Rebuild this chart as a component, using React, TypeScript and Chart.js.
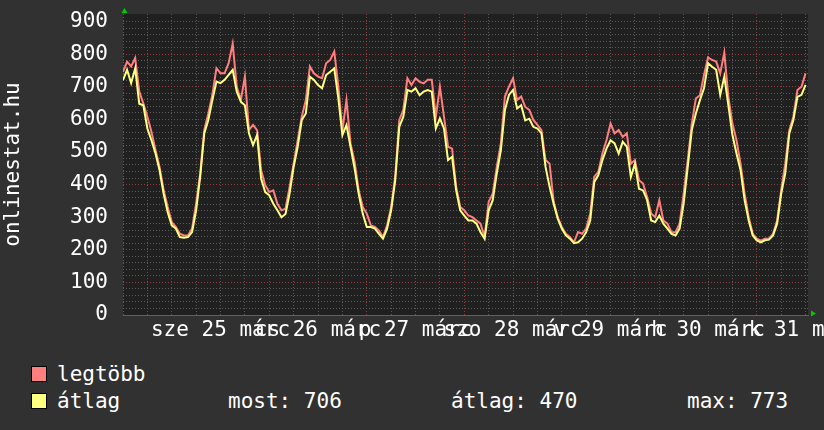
import React, { useEffect, useRef } from "react";
import { Chart, registerables } from "chart.js";

Chart.register(...registerables);

// x = hours since Tue 24 March 12:00; one value per hour
const MAX_SERIES = [
  745, 777, 762, 788, 685, 649, 608, 562, 506, 454, 383, 331, 285, 270, 249, 244, 244, 265, 342, 434,
  567, 618, 676, 757, 741, 741, 772, 832, 700, 659, 731, 567, 583, 567, 444, 398, 377, 382, 341, 321,
  326, 392, 464, 536, 608, 659, 762, 741, 731, 726, 772, 782, 808, 700, 567, 659, 526, 470, 383, 331,
  311, 275, 270, 259, 239, 275, 331, 424, 598, 629, 726, 705, 726, 715, 710, 721, 721, 608, 700, 608,
  516, 510, 393, 331, 321, 305, 300, 290, 280, 239, 347, 372, 454, 526, 670, 700, 726, 659, 670, 638,
  629, 598, 583, 567, 475, 464, 347, 300, 270, 249, 239, 223, 254, 249, 265, 311, 424, 439, 495, 536,
  587, 557, 567, 546, 557, 464, 475, 413, 403, 362, 311, 300, 352, 290, 280, 254, 254, 280, 372, 475,
  587, 664, 674, 736, 790, 782, 777, 741, 805, 669, 587, 536, 464, 372, 300, 249, 234, 228, 234, 234,
  249, 290, 382, 464, 567, 608, 690, 700, 741,
];

const AVG_SERIES = [
  720, 752, 711, 756, 648, 643, 572, 536, 495, 444, 372, 315, 275, 265, 239, 237, 239, 254, 321, 424,
  557, 598, 659, 716, 711, 721, 736, 752, 685, 654, 643, 557, 521, 552, 418, 377, 367, 341, 321, 300,
  310, 372, 454, 516, 598, 618, 731, 721, 705, 695, 736, 746, 756, 664, 552, 582, 516, 450, 372, 311,
  270, 270, 265, 249, 234, 265, 321, 413, 577, 608, 690, 685, 695, 674, 685, 690, 685, 572, 603, 572,
  475, 485, 382, 321, 305, 290, 290, 280, 254, 234, 321, 352, 434, 505, 629, 675, 690, 633, 643, 597,
  602, 577, 572, 557, 454, 393, 341, 295, 265, 244, 234, 220, 223, 234, 254, 290, 408, 429, 475, 510,
  536, 526, 495, 531, 516, 423, 464, 387, 382, 352, 290, 285, 305, 280, 265, 249, 244, 265, 342, 454,
  567, 618, 659, 695, 772, 761, 752, 675, 731, 643, 552, 495, 444, 352, 290, 244, 229, 223, 229, 231,
  244, 280, 372, 434, 557, 598, 669, 675, 706,
];

const HOURS = MAX_SERIES.map((_, i) => i);

// day labels, centred on noon of each day (hour 24, 48, ...)
const DAY_LABELS = ["sze 25 márc", "cs 26 márc", "p 27 márc", "szo 28 márc", "v 29 márc", "h 30 márc", "k 31 márc"];

const X_MAX_HOURS = 168.6;
const X_GRID_HOURS = [0, 6, 12, 18, 24, 30, 36, 42, 48, 54, 60, 66, 72, 78, 84, 90, 96, 102, 108, 114, 120, 126, 132, 138, 144, 150, 156, 162, 168];
const Y_MAX = 923;
const Y_GRID_VALUES = [0, 20, 40, 60, 80, 100, 120, 140, 160, 180, 200, 220, 240, 260, 280, 300, 320, 340, 360, 380, 400, 420, 440, 460, 480, 500, 520, 540, 560, 580, 600, 620, 640, 660, 680, 700, 720, 740, 760, 780, 800, 820, 840, 860, 880, 900];

const SERIES_NAMES = ["legtöbb", "átlag"];
const STAT_MOST = 706;
const STAT_ATLAG = 470;
const STAT_MAX = 773;

const RED = "#ff7f7f";
const YELLOW = "#ffff80";
const MONO = "'DejaVu Sans Mono', monospace";
const MAJOR_GRID = "rgba(150,62,62,0.95)";
const MINOR_GRID = "rgba(95,95,95,0.95)";

const bgPlugin = {
  id: "plotBg",
  beforeDraw(chart: any) {
    const { ctx, chartArea } = chart;
    ctx.save();
    ctx.fillStyle = "#202020";
    ctx.fillRect(chartArea.left, chartArea.top, chartArea.right - chartArea.left, chartArea.bottom - chartArea.top);
    ctx.restore();
  },
};

const arrowPlugin = {
  id: "axisArrows",
  afterDraw(chart: any) {
    const { ctx, chartArea } = chart;
    const { left, top, right, bottom } = chartArea;
    ctx.save();
    ctx.fillStyle = "#00cc00";
    ctx.beginPath();
    ctx.moveTo(left + 1.5, top - 6);
    ctx.lineTo(left - 1.5, top - 1);
    ctx.lineTo(left + 4.5, top - 1);
    ctx.closePath();
    ctx.fill();
    ctx.beginPath();
    ctx.moveTo(right + 8, bottom - 1.5);
    ctx.lineTo(right + 3, bottom - 4.5);
    ctx.lineTo(right + 3, bottom + 1.5);
    ctx.closePath();
    ctx.fill();
    ctx.restore();
  },
};

export default function App() {
  const ref = useRef<HTMLCanvasElement>(null);

  useEffect(() => {
    const font = { family: MONO, size: 21 };
    const chart = new Chart(ref.current as HTMLCanvasElement, {
      type: "line",
      data: {
        labels: HOURS,
        datasets: [
          {
            label: SERIES_NAMES[0],
            data: MAX_SERIES,
            borderColor: RED,
            backgroundColor: RED,
            borderWidth: 2,
            pointRadius: 0,
            tension: 0,
            order: 1,
          },
          {
            label: SERIES_NAMES[1],
            data: AVG_SERIES,
            borderColor: YELLOW,
            backgroundColor: YELLOW,
            borderWidth: 2,
            pointRadius: 0,
            tension: 0,
            order: 0,
          },
        ],
      },
      options: {
        responsive: false,
        animation: false,
        events: [],
        layout: { padding: { top: 14, right: 16, left: 0, bottom: 0 } },
        plugins: { legend: { display: false }, tooltip: { enabled: false } },
        scales: {
          x: {
            type: "linear",
            min: 0,
            max: X_MAX_HOURS,
            afterBuildTicks: (s: any) => {
              s.ticks = X_GRID_HOURS.map((v) => ({ value: v }));
            },
            afterFit: (s: any) => {
              s.height = 35;
              s.paddingLeft = 0;
              s.paddingRight = 0;
            },
            ticks: {
              autoSkip: false,
              maxRotation: 0,
              minRotation: 0,
              padding: 3,
              color: "#ffffff",
              font,
              callback: (v: any) => {
                const n = Number(v);
                return n > 0 && n % 24 === 0 ? DAY_LABELS[n / 24 - 1] ?? "" : "";
              },
            },
            grid: {
              drawTicks: false,
              lineWidth: 1,
              color: (c: any) => (c.tick && c.tick.value % 24 === 12 ? MAJOR_GRID : MINOR_GRID),
            },
            border: { display: true, color: "#606060", width: 1, dash: [1, 2] },
          },
          y: {
            type: "linear",
            min: 0,
            max: Y_MAX,
            afterBuildTicks: (s: any) => {
              s.ticks = Y_GRID_VALUES.map((v) => ({ value: v }));
            },
            afterFit: (s: any) => {
              s.width = 123;
              s.paddingTop = 0;
              s.paddingBottom = 0;
            },
            ticks: {
              autoSkip: false,
              padding: 15,
              color: "#ffffff",
              font,
              callback: (v: any) => (Number(v) % 100 === 0 ? String(v) : ""),
            },
            grid: {
              drawTicks: false,
              lineWidth: 1,
              color: (c: any) => (c.tick && c.tick.value % 100 === 0 ? MAJOR_GRID : MINOR_GRID),
            },
            border: { display: false, dash: [1, 2] },
            title: {
              display: true,
              text: "onlinestat.hu",
              color: "#ffffff",
              font,
              padding: { top: 1, bottom: 0 },
            },
          },
        },
      },
      plugins: [bgPlugin, arrowPlugin],
    } as any);
    return () => chart.destroy();
  }, []);

  const textStyle: React.CSSProperties = {
    position: "absolute",
    fontFamily: MONO,
    fontSize: 21,
    lineHeight: "24px",
    color: "#ffffff",
    whiteSpace: "pre",
  };
  const swatch = (color: string, top: number): React.CSSProperties => ({
    position: "absolute",
    left: 31,
    top,
    width: 16,
    height: 16,
    boxSizing: "border-box",
    background: color,
    border: "1px solid #000",
  });

  return (
    <div
      style={{
        position: "fixed",
        left: 0,
        top: 0,
        width: 824,
        height: 430,
        background: "#313131",
        overflow: "hidden",
      }}
    >
      <canvas ref={ref} width={824} height={350} style={{ display: "block", width: 824, height: 350 }} />
      <div style={swatch(RED, 366)} />
      <div style={{ ...textStyle, left: 57, top: 362 }}>{SERIES_NAMES[0]}</div>
      <div style={swatch(YELLOW, 393)} />
      <div style={{ ...textStyle, left: 57, top: 389 }}>{SERIES_NAMES[1]}</div>
      <div style={{ ...textStyle, left: 228, top: 389 }}>{`most: ${STAT_MOST}`}</div>
      <div style={{ ...textStyle, left: 451, top: 389 }}>{`átlag: ${STAT_ATLAG}`}</div>
      <div style={{ ...textStyle, left: 687, top: 389 }}>{`max: ${STAT_MAX}`}</div>
    </div>
  );
}
